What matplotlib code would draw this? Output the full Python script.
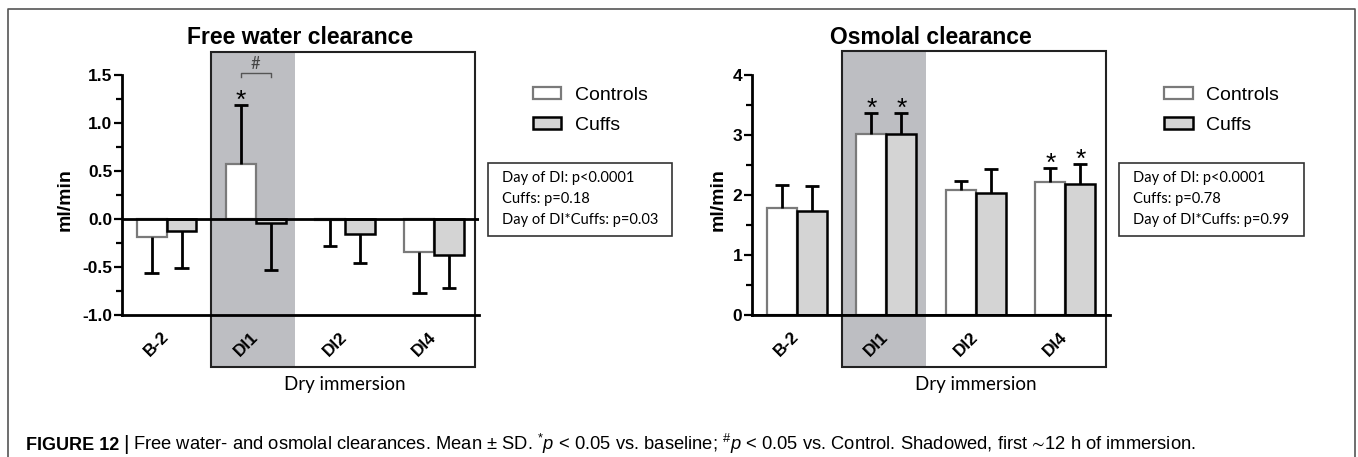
import numpy as np
import matplotlib
matplotlib.use("Agg")
import matplotlib.pyplot as plt
from matplotlib.patches import Rectangle
from matplotlib.lines import Line2D
from matplotlib.ticker import MultipleLocator, FormatStrFormatter
from matplotlib.transforms import ScaledTranslation, blended_transform_factory

plt.rcParams["font.family"] = ["Liberation Sans", "DejaVu Sans"]
plt.rcParams["axes.unicode_minus"] = False
plt.rcParams["mathtext.fontset"] = "custom"
plt.rcParams["mathtext.rm"] = "Liberation Sans"
plt.rcParams["mathtext.it"] = "Liberation Sans:italic"
plt.rcParams["mathtext.fallback"] = "stixsans"

# data (mean, SD)
days = ["B-2", "DI1", "DI2", "DI4"]
fw_ctrl = [-0.19, 0.57, -0.01, -0.34]
fw_ctrl_sd = [0.37, 0.62, 0.27, 0.435]
fw_cuff = [-0.125, -0.04, -0.16, -0.37]
fw_cuff_sd = [0.385, 0.495, 0.295, 0.35]
fw_ctrl_star = [False, True, False, False]
fw_cuff_star = [False, False, False, False]
fw_stats = ["Day of DI: p<0.0001", "Cuffs: p=0.18", "Day of DI*Cuffs: p=0.03"]

osm_ctrl = [1.78, 3.01, 2.08, 2.21]
osm_ctrl_sd = [0.39, 0.35, 0.15, 0.24]
osm_cuff = [1.74, 3.01, 2.04, 2.19]
osm_cuff_sd = [0.41, 0.36, 0.40, 0.32]
osm_ctrl_star = [False, True, False, True]
osm_cuff_star = [False, True, False, True]
osm_stats = ["Day of DI: p<0.0001", "Cuffs: p=0.78", "Day of DI*Cuffs: p=0.99"]

SHADE = "#bdbec2"
CUFF = "#d4d4d4"
CTRL_EDGE = "#7a7a7a"
NARROW = ["Lato", "DejaVu Sans"]
W = 0.335


def bars_with_err(ax, xs, means, sds, stars, face, edge, lw):
    ax.bar(xs, means, W, color=face, edgecolor=edge, lw=lw, zorder=3)
    m = np.array(means); s = np.array(sds)
    ends = np.where(m < 0, m - s, m + s)
    ax.vlines(xs, m, ends, color="k", lw=2, zorder=4)
    ax.hlines(ends, xs - 0.08, xs + 0.08, color="k", lw=2, zorder=4)
    for x, e, st in zip(xs, ends, stars):
        if st:
            ax.annotate("*", (x, e), xytext=(0, -2), textcoords="offset points",
                        ha="center", va="baseline", fontsize=19, zorder=5)


def panel(ax, title, ctrl, ctrl_sd, cuff, cuff_sd, cstar, kstar, ylim, ybox,
          major, fmt, stats, ylab_x):
    x = np.arange(len(days))
    lo, hi = ybox
    ax.add_patch(Rectangle((0.5, lo), 0.94, hi - lo, color=SHADE, lw=0,
                           zorder=0, clip_on=False))
    ax.add_patch(Rectangle((0.5, lo), 2.95, hi - lo, fill=False, ec="#222222",
                           lw=1.5, zorder=1, clip_on=False))
    bars_with_err(ax, x - W / 2, ctrl, ctrl_sd, cstar, "white", CTRL_EDGE, 1.6)
    bars_with_err(ax, x + W / 2, cuff, cuff_sd, kstar, CUFF, "black", 1.8)
    ax.axhline(0, color="k", lw=2, zorder=5)

    ax.set_xlim(-0.5, 3.5)
    ax.set_ylim(*ylim)
    for s in ["top", "right"]:
        ax.spines[s].set_visible(False)
    ax.spines["left"].set_linewidth(2)
    ax.spines["bottom"].set_linewidth(2)
    ax.spines["bottom"].set_zorder(5)
    ax.set_facecolor("none")
    ax.yaxis.set_major_locator(MultipleLocator(major))
    ax.yaxis.set_minor_locator(MultipleLocator(major / 2))
    ax.yaxis.set_major_formatter(FormatStrFormatter(fmt))
    ax.tick_params(axis="y", which="major", length=6, width=1.6, labelsize=12.5, pad=1)
    ax.tick_params(axis="y", which="minor", length=4, width=1.6)
    for lbl in ax.get_yticklabels():
        lbl.set_fontweight("bold")
    ax.set_xticks(x)
    ax.set_xticklabels(days, rotation=45, ha="center", va="center",
                       rotation_mode="anchor", fontweight="bold", fontsize=12.5)
    ax.tick_params(axis="x", length=0, pad=21)
    for lbl in ax.get_xticklabels():
        lbl.set_transform(lbl.get_transform() +
                          ScaledTranslation(-0.10, 0, ax.figure.dpi_scale_trans))

    ax.set_ylabel("ml/min", fontsize=14, fontweight="bold")
    ax.yaxis.set_label_coords(ylab_x, 0.48)
    ax.text(0.5, 1.155, title, transform=ax.transAxes, ha="center",
            va="center", fontsize=16.5, fontweight="bold")
    tr = blended_transform_factory(ax.transData, ax.transAxes)
    ax.text(2.0, -0.29, "Dry immersion", transform=tr, ha="center",
            va="center", fontsize=13.5, family=NARROW)

    handles = [Rectangle((0, 0), 1, 1, fc="white", ec=CTRL_EDGE, lw=1.6),
               Rectangle((0, 0), 1, 1, fc=CUFF, ec="black", lw=1.8)]
    ax.legend(handles, ["Controls", "Cuffs"], loc="upper left",
              bbox_to_anchor=(1.152, 0.95), frameon=False, fontsize=14,
              handlelength=1.45, handleheight=0.6, handletextpad=0.7,
              labelspacing=0.65, borderpad=0, borderaxespad=0)

    ax.add_patch(Rectangle((1.025, 0.329), 0.516, 0.304, transform=ax.transAxes,
                           fill=False, ec="#333333", lw=1.2, clip_on=False))
    for i, line in enumerate(stats):
        ax.text(1.064, 0.571 - i * 0.0875, line, transform=ax.transAxes,
                ha="left", va="center", fontsize=10.5, family=NARROW)


fig = plt.figure(figsize=(13.58, 4.57), dpi=100)
ax1 = fig.add_axes([0.0898, 0.3107, 0.2629, 0.5252])
ax2 = fig.add_axes([0.5538, 0.3107, 0.2636, 0.5252])

panel(ax1, "Free water clearance", fw_ctrl, fw_ctrl_sd, fw_cuff, fw_cuff_sd,
      fw_ctrl_star, fw_cuff_star, (-1.0, 1.5), (-1.54, 1.74), 0.5, "%.1f",
      fw_stats, -0.134)
panel(ax2, "Osmolal clearance", osm_ctrl, osm_ctrl_sd, osm_cuff, osm_cuff_sd,
      osm_ctrl_star, osm_cuff_star, (0, 4), (-0.87, 4.4), 1, "%d",
      osm_stats, -0.07)

# '#' bracket between the DI1 bars (free water)
bx0, bx1 = 1 - W / 2, 1 + W / 2
ax1.plot([bx0, bx0, bx1, bx1], [1.48, 1.52, 1.52, 1.48], color="#555555",
         lw=1, clip_on=False, zorder=5)
ax1.text(1.0, 1.53, "#", ha="center", va="bottom", fontsize=12,
         color="#444444", family=NARROW)

# outer frame
frame = dict(color="#555555", lw=1.2)
fig.add_artist(Line2D([8 / 1358, 8 / 1358, 1355 / 1358, 1355 / 1358],
                      [0, 1 - 9 / 457, 1 - 9 / 457, 0], **frame))

# caption
y_cap = 1 - 450 / 457
r = fig.canvas.get_renderer()
t1 = fig.text(26 / 1358, y_cap, "FIGURE 12", fontsize=13, fontweight="bold",
              va="baseline")
x_next = t1.get_window_extent(r).x1 / fig.bbox.width
t2 = fig.text(x_next + 4 / 1358, y_cap - 0.001, "|", fontsize=15, va="baseline")
x_next = t2.get_window_extent(r).x1 / fig.bbox.width
fig.text(x_next + 4 / 1358, y_cap,
         r"Free water- and osmolal clearances. Mean ± SD. $^{*}\mathit{p}$ < 0.05 "
         r"vs. baseline; $^{\#}\mathit{p}$ < 0.05 vs. Control. Shadowed, first "
         "$\u223c$12 h of immersion.", fontsize=13.2, va="baseline")

fig.savefig("out.png", dpi=100)
